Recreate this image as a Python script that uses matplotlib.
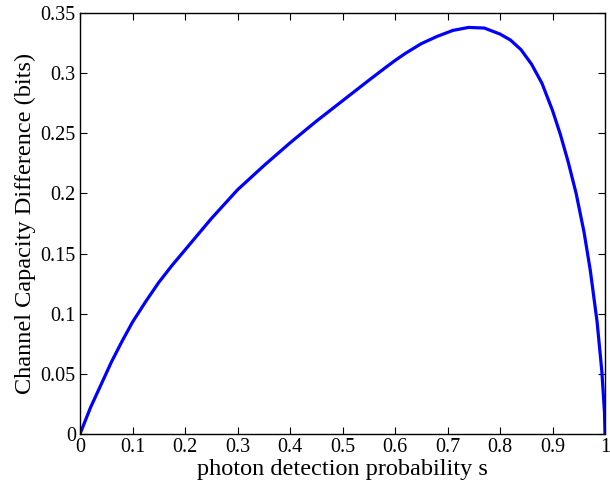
import matplotlib
matplotlib.use("Agg")
import matplotlib.pyplot as plt

# -----------------------------
# Data
# -----------------------------
s_values = [0.0, 0.01, 0.02, 0.04, 0.06, 0.08, 0.10, 0.125, 0.15, 0.175, 0.20,
            0.25, 0.30, 0.35, 0.40, 0.45, 0.50, 0.55, 0.58, 0.60, 0.62, 0.65,
            0.68, 0.71, 0.74, 0.77, 0.80, 0.82, 0.84, 0.86, 0.88, 0.90,
            0.915, 0.93, 0.945, 0.96, 0.972, 0.985, 0.994, 0.999, 1.0]
capacity_diff = [0.0, 0.011, 0.022, 0.041, 0.060, 0.077, 0.093, 0.110, 0.126,
                 0.140, 0.153, 0.179, 0.203, 0.223, 0.242, 0.260, 0.277,
                 0.294, 0.304, 0.3105, 0.3165, 0.3245, 0.3305, 0.3355, 0.338,
                 0.3375, 0.3325, 0.3275, 0.3195, 0.3075, 0.2915, 0.269, 0.249,
                 0.226, 0.200, 0.168, 0.136, 0.093, 0.052, 0.018, 0.0]

x_ticks = [0, 0.1, 0.2, 0.3, 0.4, 0.5, 0.6, 0.7, 0.8, 0.9, 1]
x_tick_labels = ["0", "0.1", "0.2", "0.3", "0.4", "0.5", "0.6", "0.7", "0.8", "0.9", "1"]
y_ticks = [0, 0.05, 0.1, 0.15, 0.2, 0.25, 0.3, 0.35]
y_tick_labels = ["0", "0.05", "0.1", "0.15", "0.2", "0.25", "0.3", "0.35"]

plt.rcParams["font.family"] = ["Liberation Serif", "DejaVu Serif"]

fig = plt.figure(figsize=(6.1, 4.82), dpi=100)
ax = fig.add_axes([80 / 610, 48 / 482, 525 / 610, 421 / 482])

ax.plot(s_values, capacity_diff, color="#0000ff", linewidth=2.3)

ax.set_xlim(0, 1)
ax.set_ylim(0, 0.35)
ax.set_xticks(x_ticks)
ax.set_xticklabels(x_tick_labels)
ax.set_yticks(y_ticks)
ax.set_yticklabels(y_tick_labels)

ax.tick_params(direction="in", length=5, width=0.8, labelsize=14.5,
               top=True, right=True, pad=3)
for spine in ax.spines.values():
    spine.set_linewidth(1.0)

ax.set_xlabel("photon detection probability s", fontsize=17.5, labelpad=1)
ax.set_ylabel("Channel Capacity Difference (bits)", fontsize=17.5, labelpad=3)

fig.savefig("out.png", dpi=100)
